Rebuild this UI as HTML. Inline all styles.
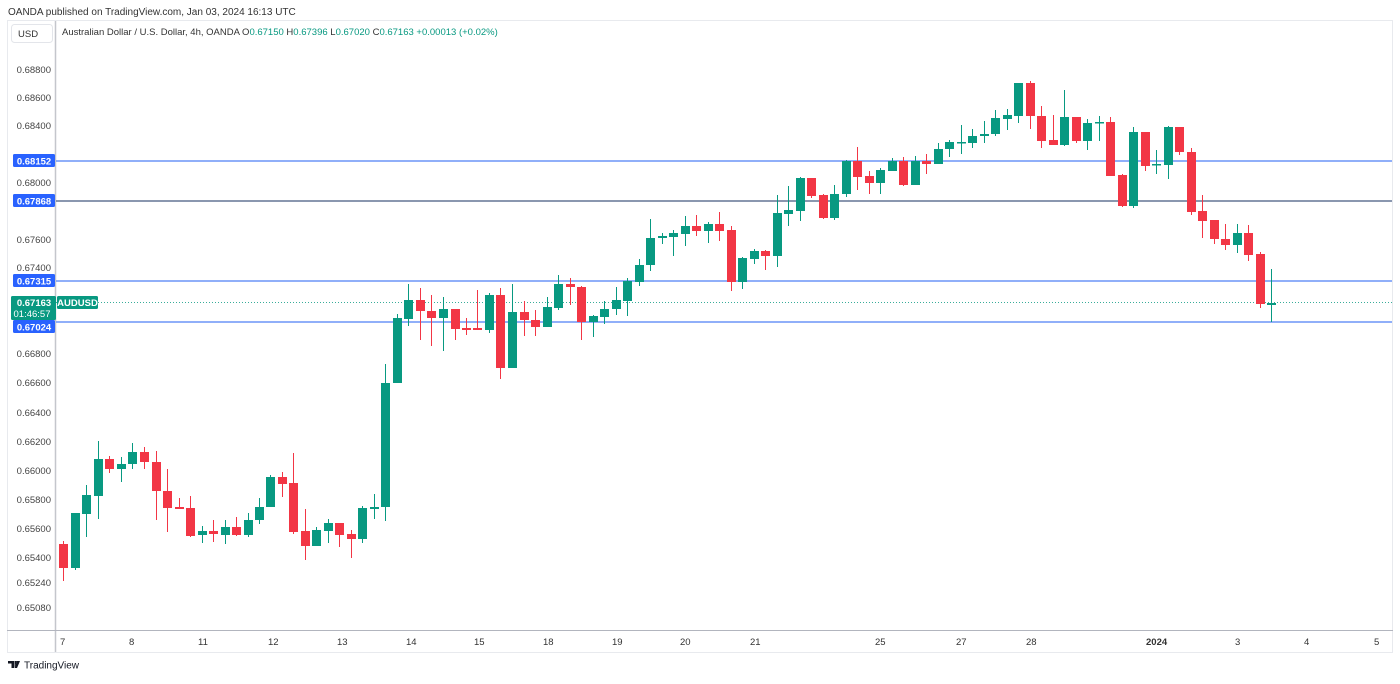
<!DOCTYPE html>
<html><head><meta charset="utf-8"><style>
html,body{margin:0;padding:0;background:#fff;}
body{width:1400px;height:679px;overflow:hidden;font-family:"Liberation Sans",sans-serif;}
</style></head><body>
<svg width="1400" height="679" viewBox="0 0 1400 679" xmlns="http://www.w3.org/2000/svg" font-family="Liberation Sans, sans-serif">
<rect width="1400" height="679" fill="#fff"/>
<text x="8" y="15" font-size="10" fill="#333">OANDA published on TradingView.com, Jan 03, 2024 16:13 UTC</text>
<rect x="7.5" y="20.5" width="1385" height="632" fill="none" stroke="#e8eaee"/>
<line x1="55.5" y1="21" x2="55.5" y2="652" stroke="#c4c6cc" stroke-width="1.5"/>
<line x1="7" y1="630.5" x2="1393" y2="630.5" stroke="#b2b5be"/>
<rect x="11.5" y="24.5" width="41" height="18" rx="3" fill="#fff" stroke="#e3e5ea"/>
<text x="18" y="37" font-size="9.5" fill="#333">USD</text>
<text x="62" y="35" font-size="9.5" fill="#333">Australian Dollar / U.S. Dollar, 4h, OANDA <tspan>O</tspan><tspan fill="#089981">0.67150</tspan> <tspan>H</tspan><tspan fill="#089981">0.67396</tspan> <tspan>L</tspan><tspan fill="#089981">0.67020</tspan> <tspan>C</tspan><tspan fill="#089981">0.67163 +0.00013 (+0.02%)</tspan></text>
<g font-size="9.5" fill="#444" text-anchor="end">
<text x="51" y="73">0.68800</text><text x="51" y="101">0.68600</text><text x="51" y="129">0.68400</text>
<text x="51" y="186">0.68000</text><text x="51" y="243">0.67600</text><text x="51" y="271">0.67400</text>
<text x="51" y="357">0.66800</text><text x="51" y="386">0.66600</text><text x="51" y="416">0.66400</text>
<text x="51" y="445">0.66200</text><text x="51" y="474">0.66000</text><text x="51" y="503">0.65800</text>
<text x="51" y="532">0.65600</text><text x="51" y="561">0.65400</text><text x="51" y="586">0.65240</text>
<text x="51" y="611">0.65080</text>
</g>
<g font-size="9.5" fill="#333">
<text x="60" y="645">7</text><text x="129" y="645">8</text><text x="198" y="645">11</text><text x="268" y="645">12</text>
<text x="337" y="645">13</text><text x="406" y="645">14</text><text x="474" y="645">15</text><text x="543" y="645">18</text>
<text x="612" y="645">19</text><text x="680" y="645">20</text><text x="750" y="645">21</text><text x="875" y="645">25</text>
<text x="956" y="645">27</text><text x="1026" y="645">28</text><text x="1146" y="645" font-weight="bold">2024</text>
<text x="1235" y="645">3</text><text x="1304" y="645">4</text><text x="1374" y="645">5</text>
</g>
<g stroke="#4d7ff5" stroke-width="1.2">
<line x1="56" y1="161" x2="1392" y2="161"/>
<line x1="56" y1="201" x2="1392" y2="201" stroke="#44597f"/>
<line x1="56" y1="281" x2="1392" y2="281"/>
<line x1="56" y1="322" x2="1392" y2="322"/>
</g>
<line x1="56" y1="302.5" x2="1392" y2="302.5" stroke="#089981" stroke-dasharray="1,2" opacity="0.8"/>
<g id="c">
<g stroke-width="1">
<path stroke="#f23645" d="M63.5 541V581M109.5 456V473M144.5 447V469M156.5 451V520M167.5 469V532M179.5 498V509M190.5 496V537M213.5 520V542M236.5 517V536M282.5 472V497M293.5 453V534M305.5 509V560M339.5 523V547M351.5 530V558M420.5 288V340M431.5 295V346M455.5 309V340M466.5 318V335M477.5 290V330M500.5 288V379M524.5 301V336M535.5 310V336M570.5 278V305M581.5 286V340M696.5 215V236M719.5 212V241M731.5 226V291M765.5 250V270M811.5 178V198M823.5 194V219M857.5 147V190M869.5 171V194M903.5 157V186M926.5 154V174M1030.5 81V129M1041.5 106V148M1053.5 115V145M1076.5 117V143M1110.5 117V176M1122.5 174V207M1145.5 132V171M1179.5 127V155M1191.5 148V215M1202.5 195V238M1214.5 220V244M1225.5 224V250M1248.5 225V261M1260.5 252V308"/>
<path stroke="#089981" d="M75.5 513V570M86.5 485V537M98.5 441V519M121.5 457V482M132.5 443V469M202.5 526V543M225.5 520V544M248.5 513V537M259.5 498V524M270.5 475V507M316.5 527V546M328.5 519V543M362.5 506V543M374.5 494V519M385.5 364V521M397.5 314V383M408.5 284V326M443.5 297V351M489.5 293V333M512.5 284V368M547.5 297V327M558.5 275V310M593.5 315V337M604.5 301V324M616.5 287V315M627.5 278V316M639.5 259V286M650.5 219V271M662.5 233V244M673.5 230V256M685.5 216V246M708.5 222V243M742.5 257V289M754.5 249V264M777.5 195V267M788.5 186V226M800.5 177V221M834.5 185V220M846.5 160V197M880.5 168V194M892.5 158V171M915.5 156V185M938.5 143V164M949.5 140V157M961.5 125V154M972.5 129V148M984.5 121V143M995.5 110V136M1007.5 109V130M1018.5 83V123M1064.5 90V146M1087.5 119V150M1099.5 116V141M1133.5 127V208M1156.5 150V174M1168.5 126V179M1237.5 224V253M1271.5 269V322"/>
</g>
<g fill="#f23645">
<rect x="59" y="544" width="9" height="24"/><rect x="105" y="459" width="9" height="10"/><rect x="140" y="452" width="9" height="10"/>
<rect x="152" y="462" width="9" height="29"/><rect x="163" y="491" width="9" height="17"/><rect x="175" y="507" width="9" height="2"/>
<rect x="186" y="508" width="9" height="28"/><rect x="209" y="531" width="9" height="3"/><rect x="232" y="527" width="9" height="8"/>
<rect x="278" y="477" width="9" height="7"/><rect x="289" y="483" width="9" height="49"/><rect x="301" y="531" width="9" height="15"/>
<rect x="335" y="523" width="9" height="12"/><rect x="347" y="534" width="9" height="5"/>
<rect x="416" y="300" width="9" height="11"/><rect x="427" y="311" width="9" height="7"/><rect x="451" y="309" width="9" height="20"/>
<rect x="462" y="328" width="9" height="2"/><rect x="473" y="328" width="9" height="2"/><rect x="496" y="295" width="9" height="73"/>
<rect x="520" y="312" width="9" height="8"/><rect x="531" y="320" width="9" height="7"/><rect x="566" y="284" width="9" height="3"/>
<rect x="577" y="287" width="9" height="35"/><rect x="692" y="226" width="9" height="5"/><rect x="715" y="224" width="9" height="7"/>
<rect x="727" y="230" width="9" height="52"/><rect x="761" y="251" width="9" height="5"/><rect x="807" y="178" width="9" height="18"/>
<rect x="819" y="195" width="9" height="23"/><rect x="853" y="161" width="9" height="16"/><rect x="865" y="176" width="9" height="7"/>
<rect x="899" y="161" width="9" height="24"/><rect x="922" y="161" width="9" height="3"/><rect x="1026" y="83" width="9" height="33"/>
<rect x="1037" y="116" width="9" height="25"/><rect x="1049" y="140" width="9" height="5"/><rect x="1072" y="117" width="9" height="24"/>
<rect x="1106" y="122" width="9" height="54"/><rect x="1118" y="175" width="9" height="31"/><rect x="1141" y="132" width="9" height="34"/>
<rect x="1175" y="127" width="9" height="25"/><rect x="1187" y="152" width="9" height="60"/><rect x="1198" y="211" width="9" height="10"/>
<rect x="1210" y="220" width="9" height="19"/><rect x="1221" y="239" width="9" height="6"/><rect x="1244" y="233" width="9" height="22"/>
<rect x="1256" y="254" width="9" height="50"/>
</g>
<g fill="#089981">
<rect x="71" y="513" width="9" height="55"/><rect x="82" y="495" width="9" height="19"/><rect x="94" y="459" width="9" height="37"/>
<rect x="117" y="464" width="9" height="5"/><rect x="128" y="452" width="9" height="12"/><rect x="198" y="531" width="9" height="4"/>
<rect x="221" y="527" width="9" height="8"/><rect x="244" y="520" width="9" height="15"/><rect x="255" y="507" width="9" height="13"/>
<rect x="266" y="477" width="9" height="30"/><rect x="312" y="530" width="9" height="16"/><rect x="324" y="523" width="9" height="8"/>
<rect x="358" y="508" width="9" height="31"/><rect x="370" y="507" width="9" height="2"/><rect x="381" y="383" width="9" height="124"/>
<rect x="393" y="318" width="9" height="65"/><rect x="404" y="300" width="9" height="19"/><rect x="439" y="309" width="9" height="9"/>
<rect x="485" y="295" width="9" height="35"/><rect x="508" y="312" width="9" height="56"/><rect x="543" y="307" width="9" height="20"/>
<rect x="554" y="284" width="9" height="24"/><rect x="589" y="316" width="9" height="6"/><rect x="600" y="309" width="9" height="8"/>
<rect x="612" y="300" width="9" height="9"/><rect x="623" y="281" width="9" height="20"/><rect x="635" y="265" width="9" height="17"/>
<rect x="646" y="238" width="9" height="27"/><rect x="658" y="236" width="9" height="2"/><rect x="669" y="233" width="9" height="4"/>
<rect x="681" y="226" width="9" height="8"/><rect x="704" y="224" width="9" height="7"/><rect x="738" y="258" width="9" height="24"/>
<rect x="750" y="251" width="9" height="8"/><rect x="773" y="213" width="9" height="43"/><rect x="784" y="210" width="9" height="4"/>
<rect x="796" y="178" width="9" height="33"/><rect x="830" y="194" width="9" height="24"/><rect x="842" y="161" width="9" height="33"/>
<rect x="876" y="170" width="9" height="13"/><rect x="888" y="161" width="9" height="10"/><rect x="911" y="161" width="9" height="24"/>
<rect x="934" y="149" width="9" height="15"/><rect x="945" y="142" width="9" height="7"/><rect x="957" y="142" width="9" height="1.5"/>
<rect x="968" y="136" width="9" height="7"/><rect x="980" y="134" width="9" height="2"/><rect x="991" y="118" width="9" height="16"/>
<rect x="1003" y="115" width="9" height="4"/><rect x="1014" y="83" width="9" height="33"/><rect x="1060" y="117" width="9" height="28"/>
<rect x="1083" y="123" width="9" height="18"/><rect x="1095" y="122" width="9" height="1.5"/><rect x="1129" y="132" width="9" height="74"/>
<rect x="1152" y="164" width="9" height="1.5"/><rect x="1164" y="127" width="9" height="38"/><rect x="1233" y="233" width="9" height="12"/>
<rect x="1267" y="303" width="9" height="2"/>
</g>
</g>
<g font-size="9.5" font-weight="bold" fill="#fff" text-anchor="middle">
<rect x="13" y="154" width="42" height="13" rx="1.5" fill="#2962ff"/><text x="34" y="164.5">0.68152</text>
<rect x="13" y="194" width="42" height="13" rx="1.5" fill="#2962ff"/><text x="34" y="204.5">0.67868</text>
<rect x="13" y="274" width="42" height="13" rx="1.5" fill="#2962ff"/><text x="34" y="284.5">0.67315</text>
<rect x="11" y="296" width="45" height="24" rx="1.5" fill="#089981"/><text x="34" y="306">0.67163</text>
<text x="32" y="317" font-weight="normal" font-size="9.5">01:46:57</text>
<rect x="13" y="320" width="42" height="13" rx="1.5" fill="#2962ff"/><text x="34" y="330.5">0.67024</text>
<rect x="57" y="296" width="41" height="13" rx="1.5" fill="#089981"/><text x="77.5" y="306">AUDUSD</text>
</g>
<g transform="translate(8,660)"><path d="M0 1h6v7H3.5V3.5H0zM6.5 1h2.5l-2.5 7z" fill="#131722"/><path d="M9 1h3l-3 7H6.5z" fill="#131722"/></g>
<text x="24" y="668.5" font-size="10" fill="#131722">TradingView</text>
</svg>
</body></html>
